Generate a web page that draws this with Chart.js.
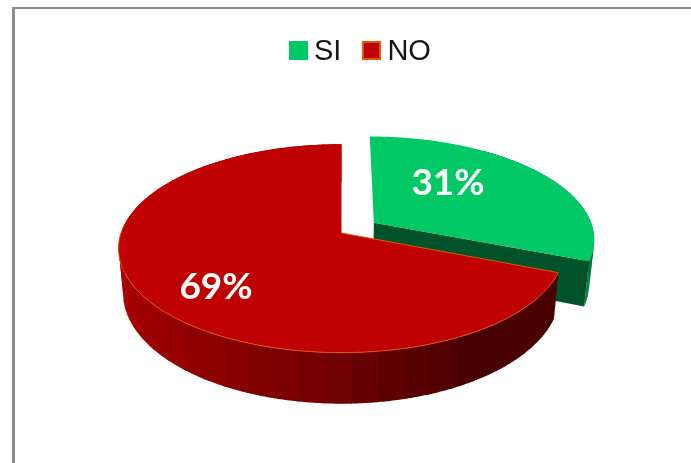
<!DOCTYPE html>
<html>
<head>
<meta charset="utf-8">
<title>SI NO</title>
<script src="https://cdn.jsdelivr.net/npm/chart.js@4"></script>
<style>
    html, body { margin: 0; padding: 0; background: #fff; overflow: hidden; }
    #marco { position: absolute; left: 12px; top: 7px; width: 700px; height: 500px; border-left: 3px solid #8c8c8c; border-top: 2px solid #8c8c8c; }
    #grafica { position: absolute; left: 0; top: 0; }
    #leyenda { position: absolute; left: 289px; top: 33px; display: flex; align-items: center; font: 29px "Liberation Sans", Arial, sans-serif; color: #151515; line-height: 34px; }
    .item { display: flex; align-items: center; margin-right: 21px; }
    .caja { width: 19px; height: 19px; margin-right: 6px; box-sizing: border-box; }
</style>
</head>
<body>
<div id="marco"></div>
<canvas id="grafica" width="691" height="463"></canvas>
<div id="leyenda"></div>
<script>
const categorias = ['SI', 'NO'];
const valores = [31, 69];
const etiquetas = ['31%', '69%'];
const separacion = [38, 0];

const colorTapa = ['#00C864', '#BE0000'];
const colorBorde = ['#00C864', '#E05A00'];

// perspectiva del pastel, sacada a ojo de la imagen
const fugaX = 1.045;
const fugaY = 0.483;
const fuga = 0.148;
const alto = 43.5;
const encogeBase = 0.98;
const posEtiquetas = [[448, 183], [216, 287]];

function punto(el, u, v, abajo) {
    const R = el.outerRadius;
    const d = 1 - fuga * v;
    return {
        x: el.x + R * fugaX * u / d * (abajo ? encogeBase : 1),
        y: el.y + R * fugaY * v / d + (abajo ? alto / d : 0)
    };
}

// tono de la pared segun lo a la derecha que este
function tonoPared(i, u) {
    if (i === 0) return u > 0.9 ? '#007A40' : '#005A2E';
    let r;
    if (u < 0) r = 0x6E + (0xA8 - 0x6E) * -u;
    else if (u < 0.5) r = 0x6E - (0x6E - 0x48) * u * 2;
    else r = 0x48;
    return `rgb(${Math.round(r)},0,0)`;
}

// angulos de a a b, incluidos los dos extremos
function angulos(a, b) {
    const lista = [];
    const n = Math.max(2, Math.ceil((b - a) / 0.01));
    for (let k = 0; k <= n; k++) lista.push(a + (b - a) * k / n);
    return lista;
}

const pastel3d = {
    id: 'pastel3d',
    beforeDatasetsDraw(chart) {
        const ctx = chart.ctx;
        const arcos = chart.getDatasetMeta(0).data;
        arcos.forEach((el, i) => {
            const R = el.outerRadius;
            const e = el.options.offset / R;
            const medio = (el.startAngle + el.endAngle) / 2;
            const ou = e * Math.cos(medio);
            const ov = e * Math.sin(medio);
            const pol = (a, r, abajo) => punto(el, r * Math.cos(a) + ou, r * Math.sin(a) + ov, abajo);

            // pared exterior en bandas
            const paso = Math.PI / 30;
            for (let a = el.startAngle; a < el.endAngle; a += paso) {
                // la parte de atras del trozo separado no se ve
                if (e > 0 && Math.cos(a) < 0.5) continue;
                const b = Math.min(a + paso + 0.01, el.endAngle);
                const lista = angulos(a, b);
                const p = lista.map(t => pol(t, 1, false)).concat(lista.reverse().map(t => pol(t, 1, true)));
                ctx.beginPath();
                p.forEach((q, k) => k ? ctx.lineTo(q.x, q.y) : ctx.moveTo(q.x, q.y));
                ctx.closePath();
                ctx.fillStyle = tonoPared(i, Math.cos(a + paso / 2));
                ctx.fill();
            }

            // cara del corte, solo se ve en el trozo separado
            if (e > 0) {
                const c = [pol(0, 0, false), pol(el.endAngle, 1, false), pol(el.endAngle, 1, true), pol(0, 0, true)];
                ctx.beginPath();
                c.forEach((q, k) => k ? ctx.lineTo(q.x, q.y) : ctx.moveTo(q.x, q.y));
                ctx.closePath();
                ctx.fillStyle = '#00522A';
                ctx.fill();
            }

            // tapa
            const centro = pol(0, 0, false);
            ctx.beginPath();
            ctx.moveTo(centro.x, centro.y);
            angulos(el.startAngle, el.endAngle).forEach(a => {
                const q = pol(a, 1, false);
                ctx.lineTo(q.x, q.y);
            });
            ctx.closePath();
            ctx.fillStyle = colorTapa[i];
            ctx.fill();

            // borde naranja del frente
            if (e === 0) {
                ctx.beginPath();
                ctx.moveTo(centro.x, centro.y);
                angulos(el.startAngle, Math.PI * 1.02).forEach(a => {
                    const q = pol(a, 1, false);
                    ctx.lineTo(q.x, q.y);
                });
                ctx.strokeStyle = colorBorde[i];
                ctx.lineWidth = 1;
                ctx.stroke();
            }
        });

        ctx.font = 'bold 37px Lato, sans-serif';
        ctx.fillStyle = '#fff';
        ctx.textAlign = 'center';
        ctx.textBaseline = 'middle';
        etiquetas.forEach((t, i) => ctx.fillText(t, posEtiquetas[i][0], posEtiquetas[i][1]));
        return false;
    }
};

new Chart(document.getElementById('grafica'), {
    type: 'pie',
    data: {
        labels: categorias,
        datasets: [{
            data: valores,
            backgroundColor: colorTapa,
            borderWidth: 0,
            offset: separacion
        }]
    },
    options: {
        responsive: false,
        animation: false,
        layout: { padding: { top: 3, right: 8 } },
        plugins: { legend: { display: false }, tooltip: { enabled: false } }
    },
    plugins: [pastel3d]
});

const leyenda = document.getElementById('leyenda');
categorias.forEach((c, i) => {
    const item = document.createElement('div');
    item.classList.add('item');
    const caja = document.createElement('div');
    caja.classList.add('caja');
    caja.style.background = colorTapa[i];
    caja.style.border = `2px solid ${colorBorde[i]}`;
    const txt = document.createElement('span');
    txt.textContent = c;
    item.appendChild(caja);
    item.appendChild(txt);
    leyenda.appendChild(item);
});
</script>
</body>
</html>
